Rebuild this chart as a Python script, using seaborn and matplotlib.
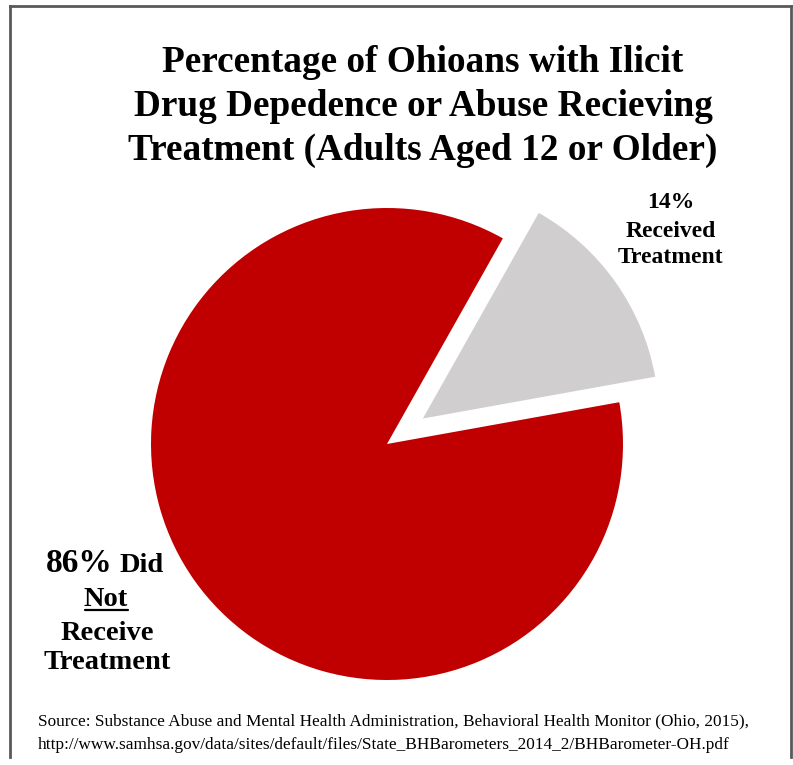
import matplotlib
matplotlib.use("Agg")
import matplotlib.pyplot as plt
from matplotlib.lines import Line2D
import seaborn as sns

# Data
categories = ["Did Not Receive Treatment", "Received Treatment"]
shares = [86, 14]
colors = ["#C00000", "#D0CECE"]

title_lines = [
    "Percentage of Ohioans with Ilicit",
    "Drug Depedence or Abuse Recieving",
    "Treatment (Adults Aged 12 or Older)",
]
source_lines = [
    "Source: Substance Abuse and Mental Health Administration, Behavioral Health Monitor (Ohio, 2015),",
    "http://www.samhsa.gov/data/sites/default/files/State_BHBarometers_2014_2/BHBarometer-OH.pdf",
]

sns.set_theme(style="white")
plt.rcParams["font.family"] = ["Liberation Serif", "DejaVu Serif"]
plt.rcParams["text.color"] = "black"

W, H = 793, 765
fig = plt.figure(figsize=(W / 100, H / 100), dpi=100)
ax = fig.add_axes([0, 0, 1, 1])

# pixel-like coordinates (y measured from top)
def Y(y):
    return H - y

cx, cy, r = 387, 444, 236
ax.pie(
    shares,
    colors=colors,
    startangle=60.6,
    counterclock=True,
    explode=[0, 44],
    radius=r,
    center=(cx, Y(cy)),
    wedgeprops=dict(linewidth=0),
)
ax.set_xlim(0, W)
ax.set_ylim(0, H)
ax.set_aspect("equal")
ax.axis("off")

# Title
for i, line in enumerate(title_lines):
    ax.text(423, Y(62 + 44 * i), line, ha="center", va="center",
            fontsize=26.8, fontweight="bold", color="black")

# Slice labels
lbl = dict(ha="center", va="baseline", fontweight="bold", color="black")
ax.text(671, Y(208), "14%", fontsize=17, **lbl)
ax.text(671, Y(237), "Received", fontsize=17, **lbl)
ax.text(671, Y(263), "Treatment", fontsize=17, **lbl)

ax.text(113, Y(572), "86%", ha="right", va="baseline", fontsize=24,
        fontweight="bold", color="black")
ax.text(119, Y(572), "Did", ha="left", va="baseline", fontsize=20.5,
        fontweight="bold", color="black")
ax.text(106, Y(606), "Not", fontsize=20.5, **lbl)
ax.add_line(Line2D([85, 128], [Y(610), Y(610)], color="black", linewidth=1.6))
ax.text(107, Y(640), "Receive", fontsize=20.5, **lbl)
ax.text(107, Y(669), "Treatment", fontsize=20.5, **lbl)

# Source note
for i, line in enumerate(source_lines):
    ax.text(38, Y(721 + 24 * i), line, ha="left", va="center", fontsize=12.45, color="black")

# Frame
frame_kw = dict(color="#595959", linewidth=2, solid_capstyle="projecting")
ax.add_line(Line2D([10, 10], [Y(6), Y(757)], **frame_kw))
ax.add_line(Line2D([10, 791], [Y(6), Y(6)], **frame_kw))
ax.add_line(Line2D([791, 791], [Y(6), Y(757)], **frame_kw))

fig.savefig("out.png", dpi=100)
